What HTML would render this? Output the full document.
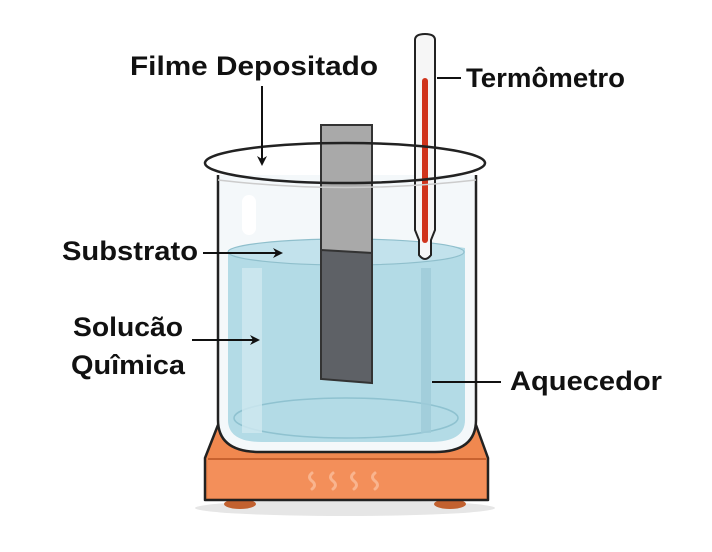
<!DOCTYPE html>
<html><head><style>
body{margin:0;background:#fff;width:712px;height:547px;overflow:hidden}
svg text{font-family:"Liberation Sans",sans-serif;font-size:27px;fill:#111;font-weight:600}
</style></head><body>
<svg width="712" height="547" viewBox="0 0 712 547" xmlns="http://www.w3.org/2000/svg">
<defs>
<marker id="a" markerWidth="10" markerHeight="10" refX="8" refY="5" orient="auto" markerUnits="userSpaceOnUse"><path d="M0,0 L10,5 L0,10 L3,5z" fill="#111"/></marker>
</defs>
<!-- heater -->
<ellipse cx="345" cy="508" rx="150" ry="8" fill="#e6e6e6"/>
<ellipse cx="240" cy="504" rx="16" ry="5" fill="#c2612f"/>
<ellipse cx="450" cy="504" rx="16" ry="5" fill="#c2612f"/>
<path d="M218,425 L476,425 L488,458 L488,500 L205,500 L205,458 Z" fill="#f0884f" stroke="#222" stroke-width="2.5" stroke-linejoin="round"/>
<path d="M208,460 L486,460 L486,498 L208,498Z" fill="#f38f5a"/>
<path d="M208,459 L486,459" stroke="#c8622f" stroke-width="2"/>
<g stroke="#f9b48e" stroke-width="3" fill="none" stroke-linecap="round">
<path d="M312,473 q-5,4 0,8 q5,4 0,8"/><path d="M333,473 q-5,4 0,8 q5,4 0,8"/><path d="M354,473 q-5,4 0,8 q5,4 0,8"/><path d="M375,473 q-5,4 0,8 q5,4 0,8"/>
</g>
<!-- beaker body -->
<path d="M218,175 L218,420 Q218,452 260,452 L435,452 Q476,452 476,420 L476,175" fill="#f4f8fa" stroke="#222" stroke-width="2.5"/>
<!-- water -->
<path d="M228,250 Q345,228 465,248 L465,420 Q465,442 430,442 L262,442 Q228,442 228,420 Z" fill="#b3dbe6"/>
<ellipse cx="346" cy="252" rx="118" ry="13" fill="#c2e2ec" stroke="#8fbfcc" stroke-width="1.2"/>
<ellipse cx="346" cy="418" rx="112" ry="20" fill="none" stroke="#8fc2d0" stroke-width="1.5"/>
<rect x="242" y="268" width="20" height="165" fill="#cfe9f0" opacity="0.8"/>
<rect x="421" y="268" width="10" height="165" fill="#9ecbd8" opacity="0.8"/>
<rect x="242" y="195" width="14" height="40" rx="7" fill="#fff"/>
<!-- substrate -->
<rect x="321" y="125" width="51" height="130" fill="#a9a9a9" stroke="#333" stroke-width="2"/>
<path d="M321,250 L372,253 L372,383 L321,379 Z" fill="#5e6166" stroke="#333" stroke-width="2"/>
<!-- thermometer -->
<path d="M415,40 Q415,34 425,34 Q435,34 435,40 L435,230 L431,240 L431,255 Q425,263 419,255 L419,240 L415,230 Z" fill="#f6f6f6" stroke="#222" stroke-width="2"/>
<rect x="422" y="78" width="6" height="165" rx="3" fill="#d0341c"/>
<!-- rim -->
<ellipse cx="345" cy="163" rx="140" ry="20" fill="none" stroke="#222" stroke-width="2.5"/>
<path d="M218,180 Q345,195 476,180" fill="none" stroke="#ccc" stroke-width="1.5"/>
<!-- labels -->
<text x="130" y="75" textLength="248" lengthAdjust="spacingAndGlyphs">Filme Depositado</text>
<line x1="262" y1="86" x2="262" y2="164" stroke="#111" stroke-width="2" marker-end="url(#a)"/>
<text x="466" y="87" textLength="159" lengthAdjust="spacingAndGlyphs">Termômetro</text>
<line x1="437" y1="78" x2="461" y2="78" stroke="#111" stroke-width="2"/>
<text x="62" y="260" textLength="136" lengthAdjust="spacingAndGlyphs">Substrato</text>
<line x1="203" y1="253" x2="281" y2="253" stroke="#111" stroke-width="2" marker-end="url(#a)"/>
<text x="73" y="336" textLength="110" lengthAdjust="spacingAndGlyphs">Solucão</text>
<text x="71" y="374" textLength="114" lengthAdjust="spacingAndGlyphs">Quîmica</text>
<line x1="192" y1="340" x2="258" y2="340" stroke="#111" stroke-width="2" marker-end="url(#a)"/>
<text x="510" y="390" textLength="152" lengthAdjust="spacingAndGlyphs">Aquecedor</text>
<line x1="432" y1="382" x2="501" y2="382" stroke="#111" stroke-width="2"/>
</svg>
</body></html>
